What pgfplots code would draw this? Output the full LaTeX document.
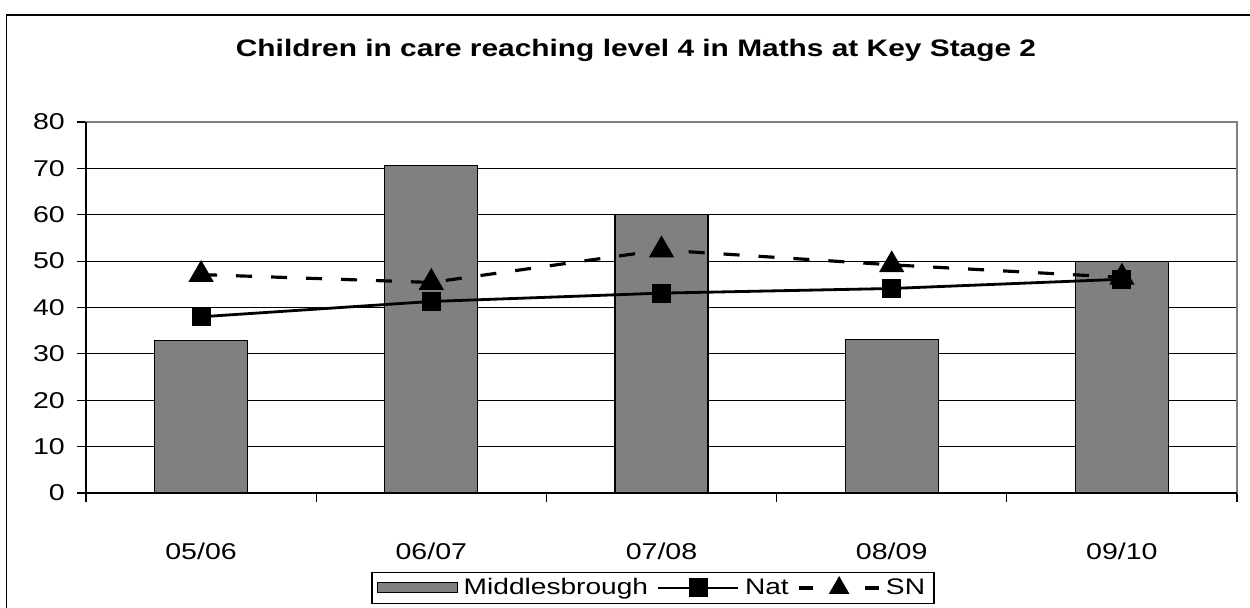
\documentclass[border=0pt]{standalone}
\usepackage{fontspec}
\setmainfont{Liberation Sans}[FakeStretch=1.25]
\usepackage{pgfplots}
\pgfplotsset{compat=1.18}
\definecolor{bargray}{RGB}{128,128,128}
\pgfplotsset{
  barlegend/.style={legend image code/.code={\draw[##1] (0cm,-0.1cm) rectangle (1.6cm,0.1cm);}},
  linelegend/.style={legend image code/.code={\draw[##1] (0cm,0cm) -- (1.6cm,0cm); \draw[##1] plot coordinates {(0.8cm,0cm)};}},
}
\begin{document}
\begin{tikzpicture}
\useasboundingbox (0,0) rectangle (25cm,12.16cm);
\draw[line width=1.1pt] (0.13cm,-0.1cm) -- (0.13cm,11.86cm) -- (25.1cm,11.86cm);
\node[font=\bfseries\fontsize{13.6}{15}\selectfont] at (12.72cm,11.16cm) {Children in care reaching level 4 in Maths at Key Stage 2};
\begin{axis}[
  at={(1.72cm,2.30cm)}, anchor=south west,
  scale only axis, width=23.02cm, height=7.42cm,
  xmin=-0.5, xmax=4.5, ymin=0, ymax=80,
  ytick={0,10,...,80},
  xtick={-0.5,0.5,1.5,2.5,3.5,4.5},
  x tick label as interval,
  xticklabels={05/06,06/07,07/08,08/09,09/10},
  xtick pos=bottom, ytick pos=left,
  tick align=outside,
  major tick length=0.18cm,
  ymajorgrids,
  grid style={black, line width=0.5pt},
  axis line style={gray, line width=0.6pt},
  tick style={black, line width=0.6pt},
  tick label style={font=\fontsize{13}{15}\selectfont},
  /pgf/number format/assume math mode=true,
  xticklabel style={yshift=-0.69cm},
  yticklabel style={xshift=-0.12cm},
  legend columns=3,
  legend style={at={(axis description cs:0.4926,-0.256)}, anchor=center,
    draw=black, line width=0.9pt, font=\fontsize{12.8}{14}\selectfont,
    inner xsep=3pt, inner ysep=1.5pt,
    /tikz/every odd column/.append style={column sep=1pt},
    /tikz/every even column/.append style={column sep=3pt}},
  clip=false,
]
\addplot[ybar, bar width=1.86cm, fill=bargray, draw=black, line width=0.6pt, barlegend]
  coordinates {(0,32.8) (1,70.6) (2,60) (3,33.1) (4,50)};
\addlegendentry{Middlesbrough}
\addplot[black, line width=1.8pt, dash pattern=on 0.32cm off 0.38cm,
  mark=triangle*, mark size=6.5pt, mark options={solid}, forget plot]
  coordinates {(0,47.1) (1,45.4) (2,52.4) (3,49.2) (4,46.5)};
\addplot[black, line width=1.6pt, mark=square*, mark size=4.6pt, mark options={solid}, linelegend]
  coordinates {(0,38.0) (1,41.3) (2,43.1) (3,44.1) (4,46.1)};
\addlegendentry{Nat}
\addlegendimage{black, line width=1.8pt, dash pattern=on 0.28cm off 0.44cm on 0.16cm off 0.44cm on 0.28cm off 0.5cm,
  mark=triangle*, mark size=5pt, mark options={solid}, linelegend}
\addlegendentry{SN}
\draw[black, line width=0.6pt] (rel axis cs:0,1) -- (rel axis cs:0,0) -- (rel axis cs:1,0);
\end{axis}
\end{tikzpicture}
\end{document}
